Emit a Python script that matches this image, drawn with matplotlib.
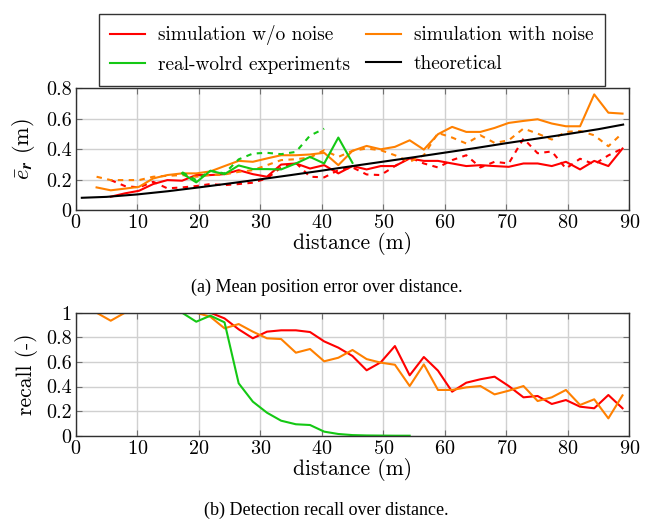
import matplotlib
matplotlib.use("Agg")
import matplotlib.pyplot as plt
from matplotlib.ticker import FormatStrFormatter, MultipleLocator

plt.rcParams['font.family'] = 'cmr10'
plt.rcParams['mathtext.fontset'] = 'cm'
plt.rcParams['axes.formatter.use_mathtext'] = True

# distances (m) of the evaluation bins
dist = [3.4, 5.7, 8.0, 10.3, 12.6, 14.9, 17.3, 19.6, 21.9, 24.2, 26.5, 28.8,
        31.1, 33.4, 35.8, 38.1, 40.4, 42.7, 45.0, 47.3, 49.6, 51.9, 54.3, 56.6,
        58.9, 61.2, 63.5, 65.8, 68.1, 70.4, 72.8, 75.1, 77.4, 79.7, 82.0, 84.3,
        86.6, 88.9]

# mean position error, solid = one error component, dashed = the other
err_sim = [None, 0.089, 0.111, 0.128, 0.172, 0.198, 0.194, 0.231, 0.231, 0.237,
           0.263, 0.237, 0.220, 0.300, 0.307, 0.274, 0.296, 0.242, 0.290, 0.268,
           0.290, 0.290, 0.340, 0.324, 0.324, 0.307, 0.290, 0.296, 0.290, 0.285,
           0.307, 0.307, 0.290, 0.318, 0.268, 0.324, 0.290, 0.405]
err_sim_d = [None, 0.198, 0.159, 0.150, 0.187, 0.144, 0.150, 0.159, 0.172, 0.165,
             0.172, 0.181, 0.209, 0.281, 0.311, 0.220, 0.216, 0.263, 0.281, 0.235,
             0.231, 0.290, 0.346, 0.307, 0.281, 0.329, 0.361, 0.281, 0.318, 0.307,
             0.470, 0.374, 0.386, 0.274, 0.338, 0.302, 0.360, 0.405]
err_noise = [0.150, 0.131, 0.142, 0.154, 0.209, 0.231, 0.242, 0.242, 0.255, 0.290,
             0.324, 0.318, 0.340, 0.361, 0.361, 0.366, 0.377, 0.296, 0.390, 0.422,
             0.400, 0.416, 0.459, 0.398, 0.499, 0.547, 0.514, 0.514, 0.540, 0.573,
             0.586, 0.597, 0.569, 0.551, 0.551, 0.760, 0.640, 0.634]
err_noise_d = [0.220, 0.198, 0.198, 0.198, 0.220, 0.226, 0.231, 0.220, 0.231, 0.235,
               0.252, 0.263, 0.296, 0.329, 0.335, 0.346, 0.394, 0.350, 0.390, 0.405,
               0.394, 0.361, 0.318, 0.361, 0.507, 0.477, 0.438, 0.492, 0.442, 0.459,
               0.536, 0.503, 0.464, 0.514, 0.520, 0.492, 0.420, 0.507]
err_real = [None] * 6 + [0.242, 0.183, 0.259, 0.237, 0.294, 0.270, 0.270, 0.268,
                         0.307, 0.350, 0.307, 0.477, 0.311] + [None] * 19
err_real_d = [None] * 6 + [0.250, 0.198, 0.259, 0.242, 0.334, 0.372, 0.377, 0.368,
                           0.383, 0.490, 0.535] + [None] * 21

# theoretical error curve
theo_x = [1, 5, 10, 15, 20, 25, 30, 35, 40, 45, 50, 55, 60, 65, 70, 75, 80, 85, 89]
theo_y = [0.082, 0.088, 0.104, 0.125, 0.150, 0.176, 0.203, 0.231, 0.260, 0.290,
          0.319, 0.348, 0.378, 0.408, 0.440, 0.470, 0.500, 0.532, 0.562]

# detection recall
rec_sim = [None, 1.0, 1.0, 1.0, 1.0, 1.0, 1.0, 1.0, 1.0, 0.954, 0.865, 0.792,
           0.846, 0.857, 0.857, 0.843, 0.767, 0.716, 0.648, 0.532, 0.597, 0.729,
           0.491, 0.640, 0.529, 0.358, 0.431, 0.459, 0.480, 0.404, 0.312, 0.323,
           0.258, 0.290, 0.236, 0.223, 0.331, 0.223]
rec_noise = [1.0, 0.935, 1.0, 1.0, 1.0, 1.0, 1.0, 1.0, 0.967, 0.873, 0.908, 0.846,
             0.792, 0.786, 0.675, 0.705, 0.605, 0.634, 0.697, 0.623, 0.594, 0.577,
             0.404, 0.580, 0.372, 0.372, 0.393, 0.404, 0.336, 0.366, 0.404, 0.282,
             0.312, 0.372, 0.250, 0.296, 0.141, 0.328]
rec_real = [None] * 6 + [1.0, 0.927, 0.976, 0.922, 0.426, 0.277, 0.187, 0.122,
                         0.093, 0.087, 0.033, 0.014, 0.005, 0.002, 0.001, 0.0,
                         0.0] + [None] * 15

RED = '#ff0000'
ORANGE = '#ff8000'
GREEN = '#14c814'
LW = 1.5
DASH = (2.6, 2.6)
FS = 14.5


def pts(xs, ys):
    pairs = [(x, y) for x, y in zip(xs, ys) if y is not None]
    return [p[0] for p in pairs], [p[1] for p in pairs]


def style(ax, ylim, ystep):
    ax.set_xlim(0, 90)
    ax.set_ylim(*ylim)
    ax.xaxis.set_major_locator(MultipleLocator(10))
    ax.yaxis.set_major_locator(MultipleLocator(ystep))
    ax.yaxis.set_major_formatter(FormatStrFormatter('%g'))
    ax.grid(True, color='#d0d0d0', linewidth=1.0)
    ax.set_axisbelow(True)
    ax.tick_params(direction='in', top=True, right=True, length=4,
                   color='#707070', labelsize=FS, pad=3)
    for s in ax.spines.values():
        s.set_color('#303030')
        s.set_linewidth(1.0)
    ax.set_xlabel('distance (m)', fontsize=15.5, labelpad=0)


fig = plt.figure(figsize=(6.54, 5.2), dpi=100)
ax1 = fig.add_axes([0.1157, 0.5956, 0.8465, 0.2346])
ax2 = fig.add_axes([0.1157, 0.1621, 0.8465, 0.2365])

h1, = ax1.plot(*pts(dist, err_sim), color=RED, lw=LW, label='simulation w/o noise')
ax1.plot(*pts(dist, err_sim_d), color=RED, lw=LW, dashes=DASH)
h2, = ax1.plot(*pts(dist, err_noise), color=ORANGE, lw=LW, label='simulation with noise')
ax1.plot(*pts(dist, err_noise_d), color=ORANGE, lw=LW, dashes=DASH)
h3, = ax1.plot(*pts(dist, err_real), color=GREEN, lw=LW, label='real-wolrd experiments')
ax1.plot(*pts(dist, err_real_d), color=GREEN, lw=LW, dashes=DASH)
h4, = ax1.plot(theo_x, theo_y, color='black', lw=LW, label='theoretical')
style(ax1, (0, 0.8), 0.2)
ax1.set_ylabel(r'$\bar{e}_{\boldsymbol{r}}$ (m)', fontsize=16)
ax1.yaxis.set_label_coords(-0.07, 0.5)

ax2.plot(*pts(dist, rec_sim), color=RED, lw=LW)
ax2.plot(*pts(dist, rec_noise), color=ORANGE, lw=LW)
ax2.plot(*pts(dist, rec_real), color=GREEN, lw=LW)
style(ax2, (0, 1), 0.2)
ax2.set_ylabel('recall (-)', fontsize=15.5)
ax2.yaxis.set_label_coords(-0.068, 0.5)

# column-wise fill: red / green in column 1, orange / black in column 2
handles = [h1, h3, h2, h4]
leg = fig.legend(handles, [h.get_label() for h in handles],
                 ncol=2, loc='upper center', bbox_to_anchor=(0.538, 0.992),
                 fontsize=13.9, frameon=True, fancybox=False, edgecolor='black',
                 handlelength=1.8, handletextpad=0.7, columnspacing=0.8,
                 borderpad=0.6, labelspacing=0.55)
leg.get_frame().set_linewidth(1.0)

fig.text(0.499, 0.447, '(a) Mean position error over distance.',
         family='Liberation Serif', fontsize=13, ha='center', va='center')
fig.text(0.499, 0.018, '(b) Detection recall over distance.',
         family='Liberation Serif', fontsize=13, ha='center', va='center')

fig.savefig('out.png', dpi=100)
